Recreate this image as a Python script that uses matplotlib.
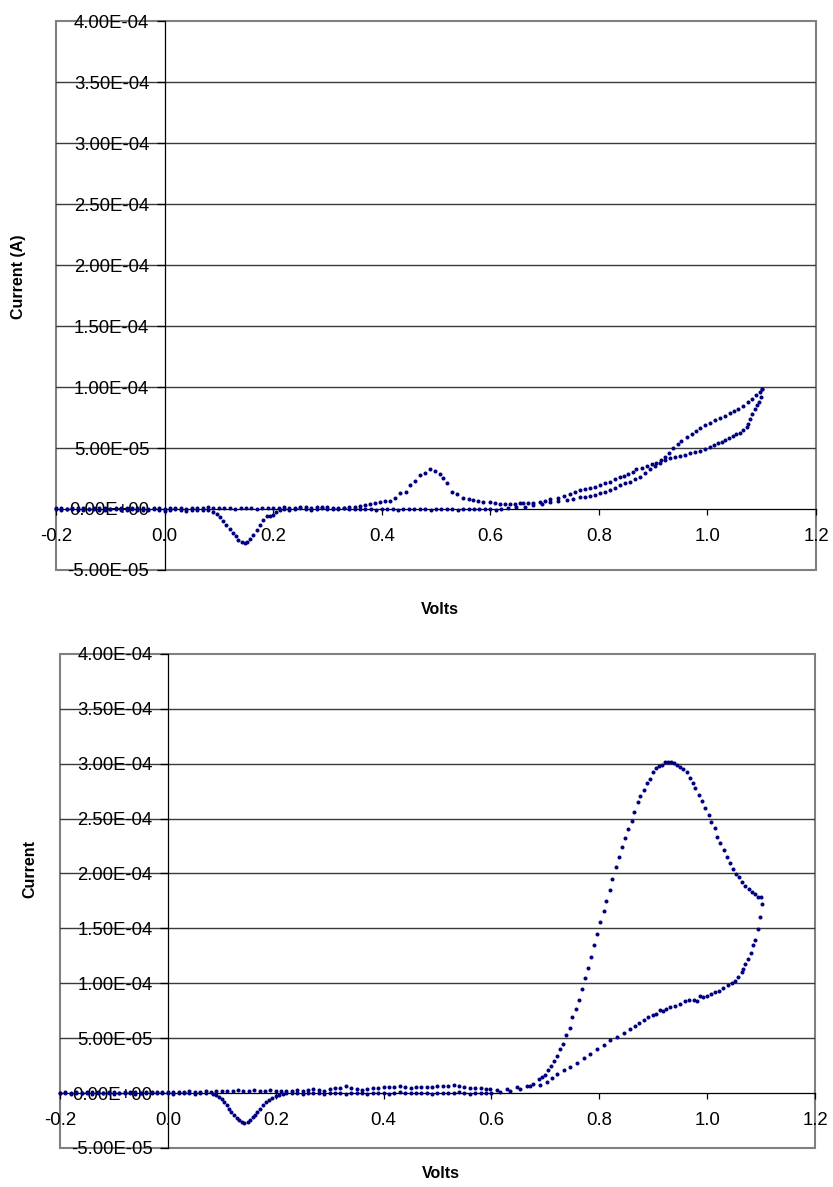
import numpy as np
import matplotlib
matplotlib.use('Agg')
import matplotlib.pyplot as plt
from matplotlib.patches import Rectangle

plt.rcParams['font.family'] = ['Liberation Sans', 'DejaVu Sans']

# currents are in microamps, volts in V
top_fwd_v = [
    -0.20, -0.19, -0.18, -0.17, -0.16, -0.15, -0.14, -0.13, -0.12, -0.11,
    -0.10, -0.09, -0.08, -0.07, -0.06, -0.05, -0.04, -0.03, -0.02, -0.01,
    0.00, 0.01, 0.02, 0.03, 0.04, 0.05, 0.06, 0.07, 0.08, 0.09,
    0.10, 0.11, 0.12, 0.13, 0.14, 0.15, 0.16, 0.17, 0.18, 0.19,
    0.20, 0.21, 0.22, 0.23, 0.24, 0.25, 0.26, 0.27, 0.28, 0.29,
    0.30, 0.31, 0.32, 0.33, 0.34, 0.35, 0.36, 0.37, 0.378, 0.387,
    0.397, 0.406, 0.415, 0.424, 0.434, 0.445, 0.452, 0.461, 0.470, 0.480,
    0.489, 0.498, 0.507, 0.513, 0.520, 0.529, 0.538, 0.550, 0.560, 0.569,
    0.578, 0.587, 0.599, 0.608, 0.618, 0.627, 0.636, 0.645, 0.654, 0.661,
    0.670, 0.679, 0.691, 0.700, 0.710, 0.725, 0.735, 0.747, 0.756, 0.765,
    0.774, 0.783, 0.792, 0.802, 0.811, 0.820, 0.830, 0.839, 0.847, 0.854,
    0.862, 0.869, 0.879, 0.888, 0.897, 0.906, 0.914, 0.922, 0.930, 0.937,
    0.945, 0.952, 0.962, 0.971, 0.979, 0.986, 0.995, 1.004, 1.014, 1.023,
    1.032, 1.041, 1.049, 1.057, 1.066, 1.075, 1.083, 1.090, 1.096, 1.101]
top_fwd_i = [
    0.6, 0.9, 0.4, 0.8, 1.2, 0.5, 0.3, 0.9, 1.1, 0.6,
    0.2, 0.7, 1.0, 0.5, 0.8, 1.2, 0.6, 0.3, 0.9, 0.7,
    0.4, 0.6, 1.0, 0.5, 0.3, 0.8, 1.1, 0.6, 1.3, 0.9,
    0.5, 0.8, 1.0, 0.4, 0.6, 0.9, 0.7, 0.3, 0.8, 1.1,
    0.6, 1.2, 1.6, 1.0, 0.7, 1.3, 1.8, 1.2, 1.5, 1.9,
    1.4, 0.9, 0.5, 1.1, 1.6, 1.9, 2.2, 3.0, 3.8, 4.8,
    5.5, 6.2, 6.6, 9.3, 13.4, 14.2, 19.7, 23.2, 27.9, 29.8,
    32.8, 31.4, 28.7, 25.7, 21.0, 13.7, 12.0, 8.7, 8.0, 7.4,
    6.6, 6.0, 5.5, 4.9, 4.1, 3.8, 3.8, 4.3, 4.9, 5.2,
    5.0, 5.2, 6.0, 6.8, 7.8, 9.3, 10.8, 12.3, 14.0, 15.6,
    16.2, 16.9, 18.3, 19.7, 21.0, 22.4, 24.2, 26.0, 27.3, 28.7,
    30.6, 32.5, 33.8, 35.2, 36.6, 38.0, 40.0, 42.3, 46.0, 49.7,
    53.0, 56.0, 58.9, 61.5, 64.0, 66.1, 68.5, 70.8, 72.6, 74.3,
    76.4, 78.4, 80.0, 81.7, 84.4, 87.4, 90.4, 93.4, 95.8, 98.1]

top_rev_v = [
    1.101, 1.098, 1.095, 1.091, 1.087, 1.083, 1.079, 1.075, 1.072, 1.066,
    1.060, 1.053, 1.047, 1.040, 1.032, 1.026, 1.020, 1.012, 1.004, 0.995,
    0.986, 0.977, 0.968, 0.958, 0.949, 0.940, 0.931, 0.922, 0.912, 0.903,
    0.894, 0.885, 0.876, 0.866, 0.857, 0.848, 0.839, 0.830, 0.820, 0.811,
    0.802, 0.793, 0.783, 0.774, 0.765, 0.753, 0.741, 0.725, 0.710, 0.695,
    0.679, 0.664, 0.648, 0.633, 0.62, 0.61, 0.60, 0.59, 0.58, 0.57,
    0.56, 0.55, 0.54, 0.53, 0.52, 0.51, 0.50, 0.49, 0.48, 0.47,
    0.46, 0.45, 0.44, 0.43, 0.42, 0.41, 0.40, 0.39, 0.38, 0.37,
    0.36, 0.35, 0.34, 0.33, 0.32, 0.31, 0.30, 0.29, 0.28, 0.27,
    0.26, 0.25, 0.24, 0.23, 0.22, 0.213, 0.206, 0.200, 0.194, 0.188,
    0.182, 0.176, 0.170, 0.163, 0.157, 0.152, 0.148, 0.142, 0.136, 0.131,
    0.127, 0.120, 0.114, 0.108, 0.102, 0.096, 0.090, 0.08, 0.07, 0.06,
    0.05, 0.04, 0.03, 0.02, 0.01, 0.00, -0.01, -0.02, -0.03, -0.04,
    -0.05, -0.06, -0.07, -0.08, -0.09, -0.10, -0.11, -0.12, -0.13, -0.14,
    -0.15, -0.16, -0.17, -0.18, -0.19, -0.20]
top_rev_i = [
    98.1, 92.0, 88.0, 85.0, 81.7, 77.5, 73.5, 70.0, 66.9, 64.5,
    62.6, 61.2, 59.8, 58.2, 56.6, 55.2, 53.8, 52.2, 50.5, 49.0,
    47.5, 46.5, 45.6, 44.5, 43.3, 42.4, 41.5, 40.0, 38.0, 35.0,
    32.5, 29.5, 26.5, 24.3, 22.4, 21.0, 19.7, 17.6, 15.6, 14.2,
    12.8, 11.7, 10.7, 10.1, 9.6, 8.5, 7.4, 6.7, 6.0, 4.5,
    3.3, 2.0, 1.4, 1.0, 0.2, -0.5, 0.0, -0.3, 0.3, -0.2,
    0.4, 0.0, -0.6, -0.2, 0.3, -0.1, -0.4, -1.0, -0.3, 0.2,
    -0.2, 0.4, 0.0, -0.5, -0.2, 0.3, 0.1, -0.6, -0.3, 0.2,
    0.0, -0.4, 0.2, 0.5, 0.0, -0.4, 0.3, 0.6, 0.0, -0.5,
    0.2, 0.6, -0.2, -0.6, 0.1, -0.8, -2.5, -4.9, -5.5, -5.7,
    -9.0, -13.0, -17.2, -21.5, -24.9, -26.8, -27.6, -26.8, -25.4, -22.5,
    -19.9, -16.5, -13.1, -9.5, -6.3, -4.0, -2.2, -1.2, -0.5, -1.0,
    -0.6, -1.3, -0.8, -0.4, -1.1, -1.4, -0.7, -0.3, -0.9, -1.2,
    -0.5, -0.2, -0.8, -1.1, -0.4, -0.1, -0.7, -1.0, -0.3, 0.0,
    -0.6, -0.9, -0.2, 0.1, -0.5, -0.3]

bot_fwd_v = [
    -0.20, -0.19, -0.18, -0.17, -0.16, -0.15, -0.14, -0.13, -0.12, -0.11,
    -0.10, -0.09, -0.08, -0.07, -0.06, -0.05, -0.04, -0.03, -0.02, -0.01,
    0.00, 0.01, 0.02, 0.03, 0.04, 0.05, 0.06, 0.07, 0.08, 0.09,
    0.10, 0.11, 0.12, 0.13, 0.14, 0.15, 0.16, 0.17, 0.18, 0.19,
    0.20, 0.21, 0.22, 0.23, 0.24, 0.25, 0.26, 0.27, 0.28, 0.29,
    0.30, 0.31, 0.32, 0.33, 0.34, 0.35, 0.36, 0.37, 0.38, 0.39,
    0.40, 0.41, 0.42, 0.43, 0.44, 0.45, 0.46, 0.47, 0.48, 0.49,
    0.50, 0.51, 0.52, 0.53, 0.54, 0.55, 0.56, 0.57, 0.58, 0.59,
    0.598, 0.610, 0.628, 0.647, 0.666, 0.678, 0.688, 0.693, 0.699, 0.705,
    0.711, 0.716, 0.722, 0.727, 0.733, 0.739, 0.745, 0.750, 0.756, 0.762,
    0.768, 0.773, 0.779, 0.785, 0.790, 0.796, 0.801, 0.808, 0.813, 0.819,
    0.824, 0.831, 0.837, 0.842, 0.847, 0.854, 0.860, 0.865, 0.871, 0.876,
    0.882, 0.888, 0.894, 0.899, 0.905, 0.911, 0.917, 0.922, 0.928, 0.933,
    0.939, 0.945, 0.950, 0.956, 0.962, 0.969, 0.973, 0.978, 0.985, 0.990,
    0.996, 1.003, 1.007, 1.014, 1.019, 1.024, 1.031, 1.037, 1.042, 1.048,
    1.054, 1.059, 1.065, 1.071, 1.077, 1.083, 1.089, 1.095, 1.100]
bot_fwd_i = [
    0.2, 0.8, 0.5, 1.0, 0.4, 0.9, 1.2, 0.6, 0.3, 0.9,
    1.1, 0.5, 0.8, 1.3, 0.7, 0.4, 1.0, 1.2, 0.6, 0.9,
    1.3, 0.8, 0.6, 1.1, 1.5, 0.9, 1.4, 1.8, 1.2, 1.6,
    2.1, 1.5, 1.9, 2.4, 1.8, 2.2, 3.0, 2.3, 1.9, 2.5,
    2.0, 1.6, 2.2, 1.8, 2.6, 2.1, 2.8, 3.3, 2.5, 2.0,
    3.5, 4.2, 4.9, 6.1, 5.0, 4.0, 3.0, 3.8, 4.5, 4.9,
    5.2, 5.5, 5.8, 6.1, 5.5, 5.0, 5.3, 5.5, 5.8, 5.6,
    6.0, 6.2, 6.5, 7.0, 6.4, 5.6, 4.9, 4.6, 4.3, 4.0,
    4.0, 3.1, 4.0, 5.5, 6.1, 8.6, 13.1, 14.6, 16.7, 21.3,
    24.3, 28.8, 33.7, 40.1, 45.0, 53.1, 59.5, 69.2, 76.5, 85.0,
    94.7, 104.4, 114.1, 123.8, 135.0, 144.7, 155.5, 165.5, 175.3, 185.1,
    194.7, 205.6, 215.3, 224.4, 232.3, 240.8, 248.1, 255.7, 265.1, 270.2,
    276.3, 282.0, 286.0, 292.1, 296.1, 298.2, 299.1, 301.2, 301.8, 301.2,
    300.3, 299.1, 297.3, 295.2, 292.1, 287.0, 282.0, 277.5, 271.5, 266.3,
    259.3, 253.3, 246.6, 241.1, 233.6, 227.5, 221.4, 215.1, 209.2, 204.1,
    199.6, 196.5, 192.0, 188.3, 185.6, 183.5, 181.4, 179.0, 179.0]

bot_rev_v = [
    1.102, 1.098, 1.095, 1.089, 1.085, 1.081, 1.076, 1.071, 1.067, 1.064,
    1.058, 1.052, 1.046, 1.038, 1.030, 1.022, 1.015, 1.007, 0.999, 0.992,
    0.986, 0.982, 0.975, 0.967, 0.959, 0.950, 0.941, 0.931, 0.924, 0.918,
    0.912, 0.905, 0.899, 0.891, 0.882, 0.874, 0.866, 0.857, 0.845, 0.832,
    0.820, 0.808, 0.795, 0.783, 0.771, 0.758, 0.746, 0.734, 0.721, 0.712,
    0.703, 0.690, 0.672, 0.653, 0.635, 0.616, 0.60, 0.59, 0.58, 0.57,
    0.56, 0.55, 0.54, 0.53, 0.52, 0.51, 0.50, 0.49, 0.48, 0.47,
    0.46, 0.45, 0.44, 0.43, 0.42, 0.41, 0.40, 0.39, 0.38, 0.37,
    0.36, 0.35, 0.34, 0.33, 0.32, 0.31, 0.30, 0.29, 0.28, 0.27,
    0.26, 0.25, 0.24, 0.23, 0.22, 0.213, 0.207, 0.200, 0.194, 0.188,
    0.182, 0.176, 0.171, 0.166, 0.162, 0.157, 0.152, 0.148, 0.142, 0.137,
    0.132, 0.128, 0.123, 0.118, 0.114, 0.109, 0.105, 0.100, 0.095, 0.089,
    0.083, 0.07, 0.06, 0.05, 0.04, 0.03, 0.02, 0.01, 0.00, -0.01,
    -0.02, -0.03, -0.04, -0.05, -0.06, -0.07, -0.08, -0.09, -0.10, -0.11,
    -0.12, -0.13, -0.14, -0.15, -0.16, -0.17, -0.18, -0.19, -0.20]
bot_rev_i = [
    172.3, 160.8, 149.6, 139.6, 135.0, 127.4, 122.3, 117.1, 113.2, 110.1,
    105.5, 101.9, 100.4, 98.0, 95.5, 93.4, 91.9, 90.4, 88.8, 87.3,
    88.8, 83.6, 84.9, 84.9, 83.6, 81.2, 79.1, 78.8, 76.7, 74.6,
    75.8, 72.2, 71.3, 69.2, 66.1, 64.0, 61.0, 58.0, 54.3, 51.5,
    48.6, 43.8, 40.1, 35.8, 32.2, 27.3, 23.7, 20.7, 17.7, 14.0,
    10.0, 7.0, 6.1, 4.0, 1.8, 0.9, 0.3, -0.4, 0.2, 0.0,
    -0.5, 0.3, 0.6, -0.2, 0.0, 0.4, -0.3, -0.6, 0.1, 0.5,
    0.0, -0.4, 0.2, 0.6, -0.1, -0.5, 0.0, 0.4, -0.2, -0.6,
    0.1, 0.5, -0.3, -0.5, 0.2, 0.0, -0.4, -0.6, 0.0, 0.3,
    -0.2, -0.5, 0.1, 0.3, -0.2, -0.6, -1.5, -3.0, -4.5, -6.1,
    -8.5, -11.2, -14.5, -17.3, -19.8, -21.8, -24.3, -26.4, -27.0, -26.0,
    -24.8, -22.8, -20.3, -17.2, -14.2, -11.0, -8.2, -5.8, -3.6, -1.8,
    -0.6, -0.3, 0.2, -0.5, 0.0, 0.4, -0.2, -0.6, 0.1, 0.3,
    -0.4, -0.1, 0.5, 0.0, -0.5, -0.2, 0.3, 0.0, -0.6, -0.3,
    0.2, -0.1, -0.5, 0.1, 0.4, -0.2, -0.6, 0.0, 0.2]

volt_ticks = [-0.2, 0.0, 0.2, 0.4, 0.6, 0.8, 1.0, 1.2]
current_ticks = [-5e-5, 0.0, 5e-5, 1e-4, 1.5e-4, 2e-4, 2.5e-4, 3e-4, 3.5e-4, 4e-4]


def draw_panel(ax, sweeps, ylabel, ylabel_pos, xlabel_y):
    ax.set_xlim(-0.2, 1.2)
    ax.set_ylim(-5e-5, 4e-4)
    # plot frame and grid, Excel style
    ax.add_patch(Rectangle((0, 0), 1, 1, transform=ax.transAxes, fill=False,
                           ec='#808080', lw=1.5, zorder=1, clip_on=False))
    for y in current_ticks[2:-1]:
        ax.axhline(y, color='#3a3a3a', lw=1.0, zorder=1)
    for v, i in sweeps:
        ax.plot(v, np.array(i) * 1e-6, 'o', ms=2.9, mew=0, color='#000080',
                zorder=3, clip_on=False)
    for s in ['top', 'right']:
        ax.spines[s].set_visible(False)
    for s in ['left', 'bottom']:
        ax.spines[s].set_position(('data', 0))
        ax.spines[s].set_color('black')
        ax.spines[s].set_linewidth(0.9)
    ax.set_xticks(volt_ticks)
    ax.set_xticklabels(['%.1f' % t for t in volt_ticks], fontsize=13.4)
    ax.set_yticks(current_ticks)
    ax.set_yticklabels(['%.2E' % t for t in current_ticks], fontsize=13.3)
    ax.tick_params(axis='y', direction='out', length=6, width=0.9, pad=5)
    ax.tick_params(axis='x', direction='out', length=4.5, width=0.9, pad=9)
    ax.set_ylabel(ylabel, fontsize=11.5, fontweight='bold')
    ax.yaxis.set_label_coords(*ylabel_pos)
    ax.set_xlabel('Volts', fontsize=11.5, fontweight='bold')
    ax.xaxis.set_label_coords(0.505, xlabel_y)


fig = plt.figure(figsize=(8.33, 11.87), dpi=100)
ax1 = fig.add_axes([0.0672, 0.5198, 0.9124, 0.4625])
ax2 = fig.add_axes([0.0720, 0.0329, 0.9064, 0.4162])

draw_panel(ax1, [(top_fwd_v, top_fwd_i), (top_rev_v, top_rev_i)],
           'Current (A)', (-0.040, 0.535), -0.058)
draw_panel(ax2, [(bot_fwd_v, bot_fwd_i), (bot_rev_v, bot_rev_i)],
           'Current', (-0.030, 0.565), -0.036)

fig.savefig('out.png', dpi=100)
